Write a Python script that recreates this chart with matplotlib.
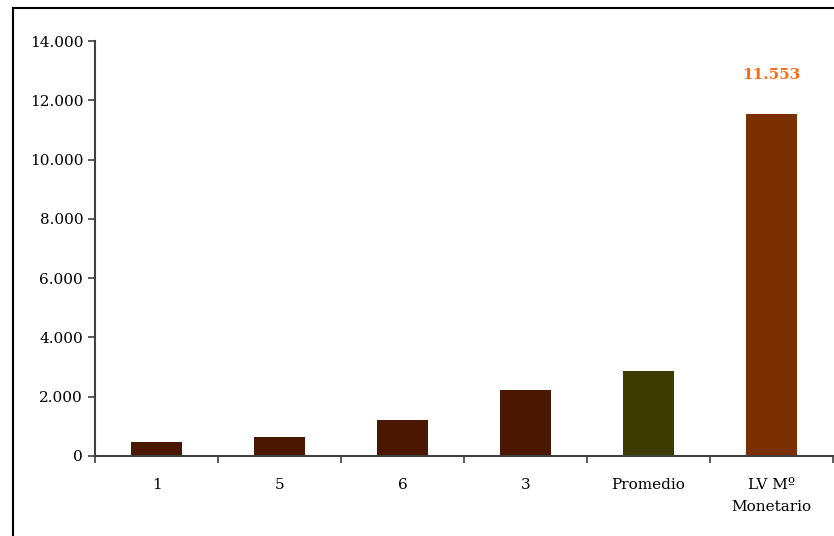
import matplotlib
matplotlib.use("Agg")
import matplotlib.pyplot as plt
from matplotlib.lines import Line2D
from matplotlib.ticker import FuncFormatter, FixedLocator
import numpy as np

# Datos del gráfico
categorias = ["1", "5", "6", "3", "Promedio", "LV Mº\nMonetario"]
valores = [470, 640, 1215, 2226, 2867, 11553]
colores = ["#4a1800", "#4a1800", "#4a1800", "#4a1800", "#3c3c00", "#7a3000"]

plt.rcParams["font.family"] = ["DejaVu Serif"]

fig = plt.figure(figsize=(8.34, 5.36), dpi=100)
ax = fig.add_axes([0.1139, 0.1493, 0.885, 0.7742])

x = np.arange(len(categorias))
ax.bar(x, valores, width=0.42, color=colores)

# Etiqueta del último valor
ax.text(x[-1], 12850, "11.553", ha="center", va="center",
        color="#ff6a13", fontsize=11, fontweight="bold")

ax.set_xlim(-0.5, len(categorias) - 0.5)
ax.set_ylim(0, 14000)
ax.set_yticks(np.arange(0, 14001, 2000))
ax.yaxis.set_major_formatter(FuncFormatter(lambda v, p: f"{int(v):,}".replace(",", ".")))

ax.set_xticks(x)
ax.set_xticklabels(categorias, fontsize=11, linespacing=1.7)
ax.xaxis.set_minor_locator(FixedLocator(np.arange(-0.5, len(categorias), 1)))
ax.tick_params(axis="x", which="major", length=0, pad=16)
ax.tick_params(axis="x", which="minor", length=5, width=1.2, color="#404040", direction="out")
ax.tick_params(axis="y", length=5, width=1.2, color="#404040", labelsize=11)

for lado in ["top", "right"]:
    ax.spines[lado].set_visible(False)
for lado in ["left", "bottom"]:
    ax.spines[lado].set_color("#404040")
    ax.spines[lado].set_linewidth(1.5)

# Marco de la figura (arriba e izquierda)
fig.add_artist(Line2D([13 / 834, 1], [1 - 8 / 536, 1 - 8 / 536], color="black", lw=1.5))
fig.add_artist(Line2D([13 / 834, 13 / 834], [0, 1 - 8 / 536], color="black", lw=1.5))

fig.savefig("out.png", dpi=100)
